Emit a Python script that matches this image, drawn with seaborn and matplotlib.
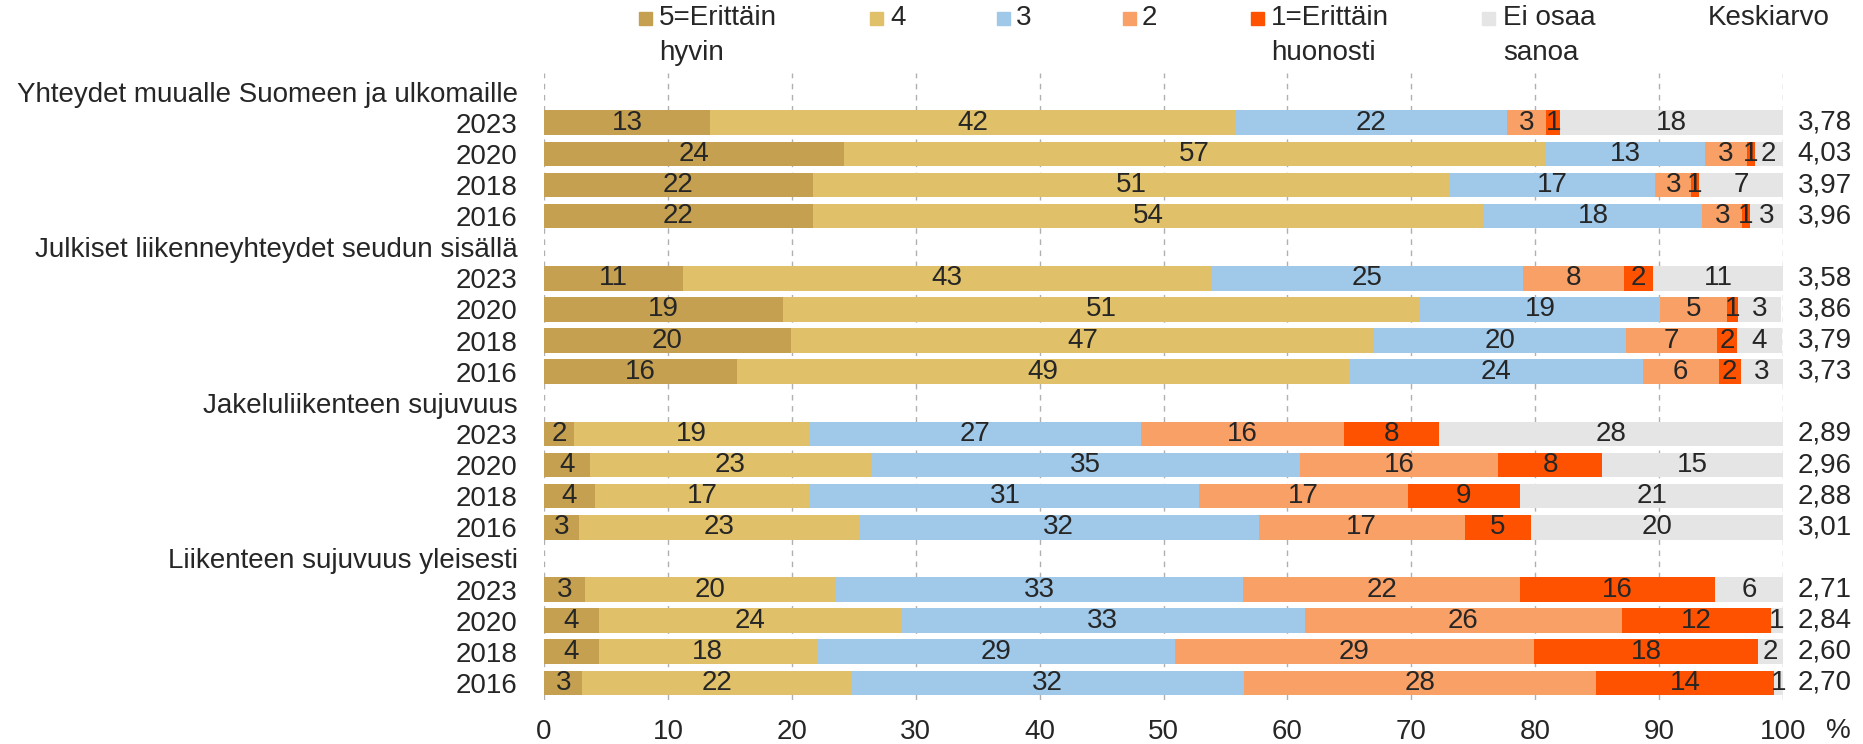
import numpy as np
import pandas as pd
import matplotlib
matplotlib.use("Agg")
import matplotlib.pyplot as plt
from matplotlib.patches import Rectangle
import seaborn as sns

# Data (percent shares per answer)
groups = ["Yhteydet muualle Suomeen ja ulkomaille",
          "Julkiset liikenneyhteydet seudun sisällä",
          "Jakeluliikenteen sujuvuus",
          "Liikenteen sujuvuus yleisesti"]
years = ["2023", "2020", "2018", "2016"]

v5 = [13.4, 24.2, 21.7, 21.7,  11.2, 19.3, 19.9, 15.6,  2.4, 3.7, 4.1, 2.8,  3.3, 4.4, 4.4, 3.1]
v4 = [42.4, 56.6, 51.4, 54.2,  42.6, 51.4, 47.1, 49.4,  19.0, 22.7, 17.4, 22.6,  20.2, 24.4, 17.6, 21.7]
v3 = [21.9, 12.9, 16.6, 17.6,  25.2, 19.4, 20.3, 23.7,  26.8, 34.6, 31.4, 32.3,  32.9, 32.6, 28.9, 31.7]
v2 = [3.2, 3.4, 2.9, 3.2,  8.2, 5.4, 7.4, 6.1,  16.4, 16.0, 16.8, 16.6,  22.4, 25.6, 29.0, 28.4]
v1 = [1.1, 0.6, 0.6, 0.6,  2.3, 0.9, 1.6, 1.8,  7.6, 8.4, 9.1, 5.4,  15.7, 12.0, 18.1, 14.4]
eos = [18.0, 2.3, 6.8, 2.7,  10.6, 3.4, 3.6, 3.4,  27.8, 14.6, 21.2, 20.3,  5.6, 1.0, 2.0, 0.7]
means = ["3,78", "4,03", "3,97", "3,96", "3,58", "3,86", "3,79", "3,73",
         "2,89", "2,96", "2,88", "3,01", "2,71", "2,84", "2,60", "2,70"]

categories = ["5=Erittäin\nhyvin", "4", "3", "2", "1=Erittäin\nhuonosti", "Ei osaa\nsanoa"]
colors = ["#C4A050", "#E0C068", "#9FC8E9", "#F9A066", "#FF5200", "#E5E5E5"]

sns.set_theme(style="white")
plt.rcParams["font.family"] = ["Liberation Sans", "DejaVu Sans"]
plt.rcParams["font.size"] = 20

# build rows: a header row (no bar) followed by the four years for each group
series = [v5, v4, v3, v2, v1, eos]
rows = []
labels = []
k = 0
for g in groups:
    rows.append([0.0] * 6 + [""])
    labels.append(g)
    for y in years:
        rows.append([s[k] for s in series] + [means[k]])
        labels.append(y)
        k += 1
df = pd.DataFrame(rows, columns=["c5", "c4", "c3", "c2", "c1", "eos", "mean"])
df["row"] = [f"r{i}" for i in range(len(df))]
cols = ["c5", "c4", "c3", "c2", "c1", "eos"]
cum = df[cols].cumsum(axis=1)

fig = plt.figure(figsize=(18.63, 7.44), dpi=100)
ax = fig.add_axes([544 / 1863, 1 - 700 / 744, (1783 - 544) / 1863, (700 - 73) / 744])

# stacked bars: draw cumulative totals from the widest down
for i in range(len(cols) - 1, -1, -1):
    sns.barplot(x=cum[cols[i]], y=df["row"], order=list(df["row"]), orient="h",
                color=colors[i], saturation=1, width=0.79, linewidth=0,
                errorbar=None, ax=ax)

# segment labels
for r in range(len(df)):
    if df["mean"][r] == "":
        continue
    left = 0.0
    for c in cols:
        v = df[c][r]
        ax.text(left + v / 2, r, str(int(v + 0.5)), ha="center", va="center", fontsize=20)
        left += v
    ax.text(101.2, r, df["mean"][r], ha="left", va="center", fontsize=20, clip_on=False)

ax.set_xlim(0, 100)
ax.set_ylim(19.55, -0.6)
ax.set_xticks(range(0, 101, 10))
ax.set_xticklabels([str(t) for t in range(0, 101, 10)], fontsize=20)
ax.set_yticks(range(len(df)))
ax.set_yticklabels(labels, fontsize=20)
ax.set_xlabel("")
ax.set_ylabel("")
ax.tick_params(axis="x", length=0, pad=14)
ax.tick_params(axis="y", length=0, pad=19)
ax.xaxis.grid(True, linestyle=(0, (4, 4)), color="#B0B0B0", linewidth=1)
ax.set_axisbelow(True)
sns.despine(ax=ax, left=True, bottom=True)

fig.text(1838 / 1863, 1 - 731 / 744, "%", ha="center", va="center", fontsize=20)

# legend across the top
sq_x = [639, 870, 997, 1123, 1251, 1482]
txt_x = [659, 890, 1016, 1142, 1271, 1503]
for i, lab in enumerate(categories):
    fig.add_artist(Rectangle((sq_x[i] / 1863, 1 - 25 / 744), 13 / 1863, 13 / 744,
                             transform=fig.transFigure, color=colors[i]))
    parts = lab.split("\n")
    fig.text(txt_x[i] / 1863, 1 - 18 / 744, parts[0], ha="left", va="center", fontsize=20)
    if len(parts) > 1:
        fig.text(txt_x[i] / 1863, 1 - 53 / 744, parts[1], ha="left", va="center", fontsize=20)
fig.text(1708 / 1863, 1 - 18 / 744, "Keskiarvo", ha="left", va="center", fontsize=20)

fig.savefig("out.png", dpi=100, facecolor="white")
